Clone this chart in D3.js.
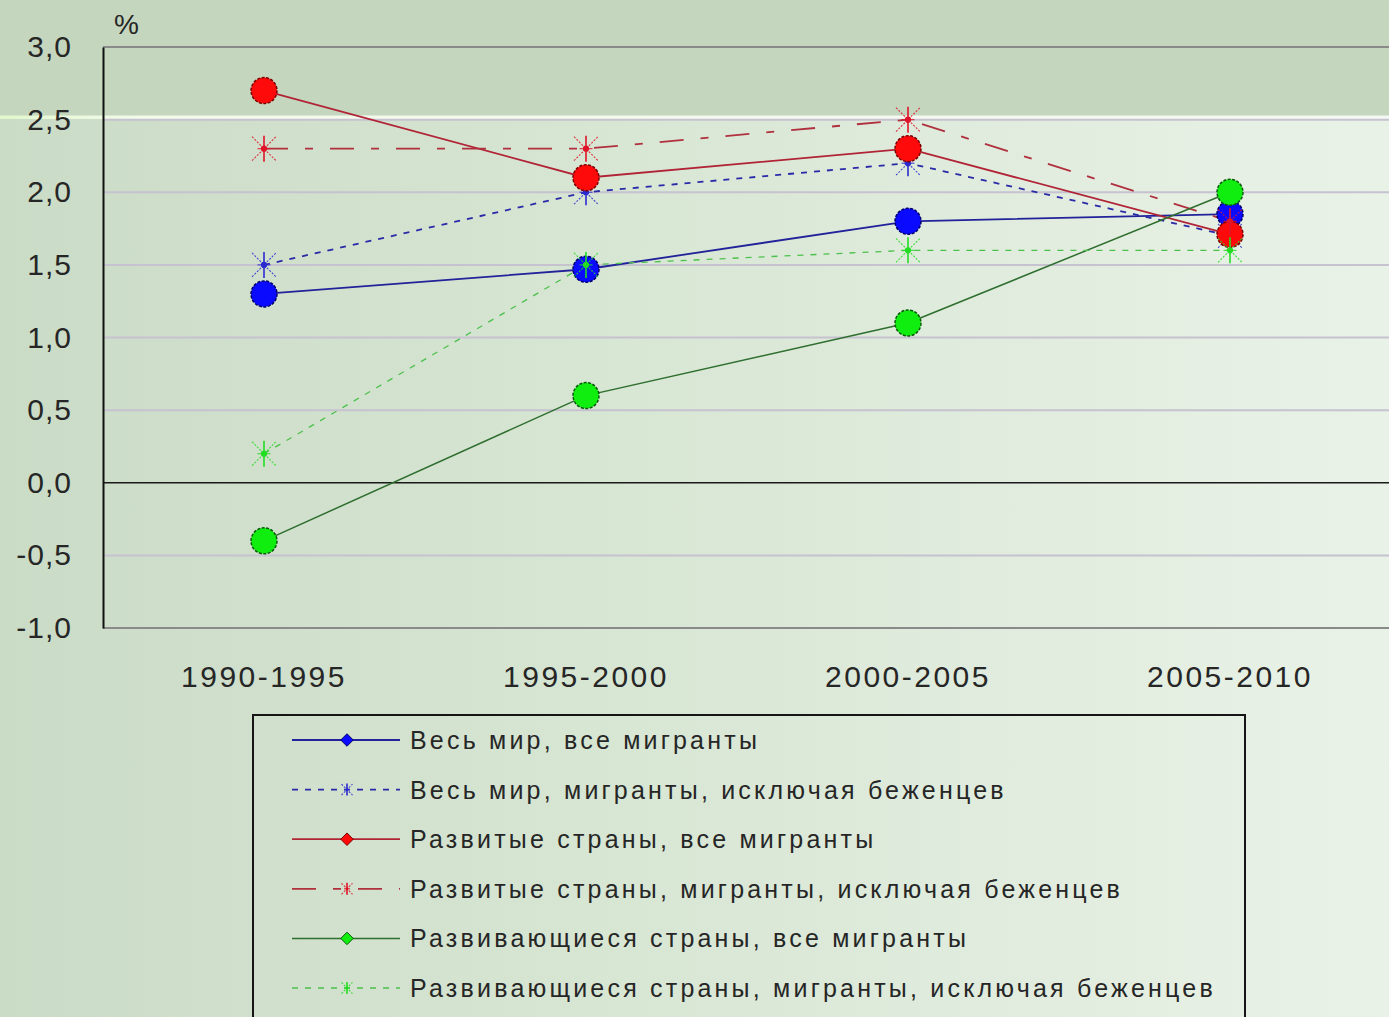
<!DOCTYPE html>
<html>
<head>
<meta charset="utf-8">
<script src="https://cdn.jsdelivr.net/npm/d3@7/dist/d3.min.js"></script>
<style>
  html, body { margin: 0; padding: 0; background: #c5d6bf; }
  svg { display: block; }
  text { font-family: "Liberation Sans", Arial, sans-serif; fill: #262626; }
</style>
</head>
<body>
<svg id="chart" width="1389" height="1017"></svg>
<script>
// Periods on the horizontal axis
const periods = ["1990-1995", "1995-2000", "2000-2005", "2005-2010"];

// Annual growth of the migrant stock, %
const worldAll        = [1.3, 1.47, 1.8, 1.85];
const worldNoRefugees = [1.5, 2.0, 2.2, 1.7];
const devAll          = [2.7, 2.1, 2.3, 1.71];
const devNoRefugees   = [2.3, 2.3, 2.5, 1.8];
const lessAll         = [-0.4, 0.6, 1.1, 2.0];
const lessNoRefugees  = [0.2, 1.5, 1.6, 1.6];

const yTicks = [-1, -0.5, 0, 0.5, 1, 1.5, 2, 2.5, 3];

const seriesNames = [
  "Весь мир, все мигранты",
  "Весь мир, мигранты, исключая беженцев",
  "Развитые страны, все мигранты",
  "Развитые страны, мигранты, исключая беженцев",
  "Развивающиеся страны, все мигранты",
  "Развивающиеся страны, мигранты, исключая беженцев"
];

const series = [
  { name: seriesNames[0], values: worldAll,        line: "#22229a", fill: "#0a0aff", edge: "#00006a", dash: null,         width: 1.8, marker: "circle" },
  { name: seriesNames[1], values: worldNoRefugees, line: "#2a2aa8", fill: "#2a2ad0", edge: "#2a2ad0", dash: "6,7",        width: 1.8, marker: "star" },
  { name: seriesNames[2], values: devAll,          line: "#b02436", fill: "#ff0a0a", edge: "#7a0000", dash: null,         width: 1.8, marker: "circle" },
  { name: seriesNames[3], values: devNoRefugees,   line: "#b0303e", fill: "#e01428", edge: "#e01428", dash: "24,17,8,17", width: 1.8, marker: "star" },
  { name: seriesNames[4], values: lessAll,         line: "#2e6e2e", fill: "#10ee10", edge: "#0a5a0a", dash: null,         width: 1.5, marker: "circle" },
  { name: seriesNames[5], values: lessNoRefugees,  line: "#4cc04c", fill: "#22dd22", edge: "#22dd22", dash: "6,7",        width: 1.3, marker: "star" }
];

const W = 1389, H = 1017;
const plot = { left: 103, right: 1391, top: 47, bottom: 628 };

const svg = d3.select("#chart");

// Background: flat upper band, lighter horizontal gradient below it
const defs = svg.append("defs");
const grad = defs.append("linearGradient").attr("id", "bgGrad")
  .attr("x1", "0%").attr("x2", "100%").attr("y1", "0%").attr("y2", "0%");
grad.append("stop").attr("offset", "0%").attr("stop-color", "#cadbc6");
grad.append("stop").attr("offset", "45%").attr("stop-color", "#d8e6d4");
grad.append("stop").attr("offset", "100%").attr("stop-color", "#e9f2e7");

const hl = defs.append("linearGradient").attr("id", "hlGrad")
  .attr("x1", "0%").attr("x2", "100%").attr("y1", "0%").attr("y2", "0%");
hl.append("stop").attr("offset", "0%").attr("stop-color", "#e2f7cc");
hl.append("stop").attr("offset", "10%").attr("stop-color", "#f2faea");
hl.append("stop").attr("offset", "100%").attr("stop-color", "#f4f8f2");

svg.append("rect").attr("x", 0).attr("y", 0).attr("width", W).attr("height", H).attr("fill", "#c5d6bf");
svg.append("rect").attr("x", 0).attr("y", 117).attr("width", W).attr("height", H - 117).attr("fill", "url(#bgGrad)");
svg.append("rect").attr("x", 0).attr("y", 115.5).attr("width", W).attr("height", 3.5).attr("fill", "url(#hlGrad)");

const x = d3.scalePoint().domain(periods).range([plot.left, plot.right]).padding(0.5);
const y = d3.scaleLinear().domain([-1, 3]).range([plot.bottom, plot.top]);

const ruLocale = d3.formatLocale({ decimal: ",", thousands: " ", grouping: [3], currency: ["", ""], minus: "-" });
const fmt = ruLocale.format(".1f");

// Gridlines
svg.append("g")
  .selectAll("line")
  .data(yTicks.filter(d => d !== 0 && d !== -1 && d !== 3))
  .join("line")
  .attr("x1", plot.left).attr("x2", W)
  .attr("y1", d => y(d)).attr("y2", d => y(d))
  .attr("stroke", "#c6c2d0").attr("stroke-width", 2);

// Plot frame: top and bottom edges
svg.append("line").attr("x1", plot.left).attr("x2", W).attr("y1", y(3)).attr("y2", y(3))
  .attr("stroke", "#8a8a8a").attr("stroke-width", 2);
svg.append("line").attr("x1", plot.left).attr("x2", W).attr("y1", y(-1)).attr("y2", y(-1))
  .attr("stroke", "#8a8a8a").attr("stroke-width", 2);

// Zero line
svg.append("line").attr("x1", plot.left).attr("x2", W).attr("y1", y(0)).attr("y2", y(0))
  .attr("stroke", "#1a1a1a").attr("stroke-width", 1.6);

// Y axis
const yAxis = svg.append("g")
  .attr("transform", `translate(${plot.left},0)`)
  .call(d3.axisLeft(y).tickValues(yTicks).tickSize(0).tickPadding(31).tickFormat(fmt));
yAxis.select(".domain").attr("stroke", "#111").attr("stroke-width", 2);
yAxis.selectAll("text")
  .style("font-family", '"Liberation Sans", Arial, sans-serif')
  .style("font-size", "30px").style("letter-spacing", "1px").attr("fill", "#262626");

// Unit label
svg.append("text").attr("x", 114).attr("y", 34)
  .style("font-size", "28px").text("%");

// X axis labels
svg.append("g")
  .selectAll("text")
  .data(periods)
  .join("text")
  .attr("x", d => x(d)).attr("y", 687)
  .attr("text-anchor", "middle")
  .style("font-size", "30px").style("letter-spacing", "2.5px")
  .text(d => d);

// Markers
function drawStar(g, size, color) {
  const r = size / 2;
  g.append("line").attr("x1", 0).attr("x2", 0).attr("y1", -r).attr("y2", r)
    .attr("stroke", color).attr("stroke-width", 1.6);
  [[1, 1], [1, -1]].forEach(([a, b]) => {
    g.append("line").attr("x1", -r * 0.92 * a).attr("y1", -r * 0.92 * b)
      .attr("x2", r * 0.92 * a).attr("y2", r * 0.92 * b)
      .attr("stroke", color).attr("stroke-width", 1.1).attr("stroke-dasharray", "2,1.5").attr("opacity", 0.85);
  });
  g.append("line").attr("x1", -r * 0.5).attr("x2", r * 0.5).attr("y1", 0).attr("y2", 0)
    .attr("stroke", color).attr("stroke-width", 1.2).attr("opacity", 0.8);
  g.append("circle").attr("r", size * 0.12).attr("fill", color);
}

const line = d3.line().x((d, i) => x(periods[i])).y(d => y(d));

// Lines first, markers on top
series.forEach(s => {
  svg.append("path").datum(s.values)
    .attr("d", line)
    .attr("fill", "none")
    .attr("stroke", s.line)
    .attr("stroke-width", s.width)
    .attr("stroke-dasharray", s.dash);
});

series.forEach(s => {
  const g = svg.append("g");
  s.values.forEach((v, i) => {
    const m = g.append("g").attr("transform", `translate(${x(periods[i])},${y(v)})`);
    if (s.marker === "circle") {
      m.append("circle").attr("r", 13)
        .attr("fill", s.fill).attr("stroke", s.edge).attr("stroke-width", 1.5)
        .attr("stroke-dasharray", "3,1.5");
    } else {
      drawStar(m, 26, s.fill);
    }
  });
});

// Legend
const lg = { x: 253, y: 715, w: 992, row0: 740, step: 49.6 };
svg.append("rect").attr("x", lg.x).attr("y", lg.y).attr("width", lg.w).attr("height", H - lg.y + 20)
  .attr("fill", "none").attr("stroke", "#151515").attr("stroke-width", 2);

series.forEach((s, i) => {
  const cy = lg.row0 + i * lg.step;
  const g = svg.append("g");
  g.append("line").attr("x1", 292).attr("x2", 400).attr("y1", cy).attr("y2", cy)
    .attr("stroke", s.line).attr("stroke-width", s.width).attr("stroke-dasharray", s.dash);
  const m = g.append("g").attr("transform", `translate(347,${cy})`);
  if (s.marker === "circle") {
    m.append("path").attr("d", d3.symbol(d3.symbolDiamond2, 100)())
      .attr("fill", s.fill).attr("stroke", s.edge).attr("stroke-width", 1);
  } else {
    drawStar(m, 12, s.fill);
  }
  g.append("text").attr("x", 410).attr("y", cy + 9)
    .style("font-size", "25px").style("letter-spacing", "3.2px")
    .text(s.name);
});
</script>
</body>
</html>
